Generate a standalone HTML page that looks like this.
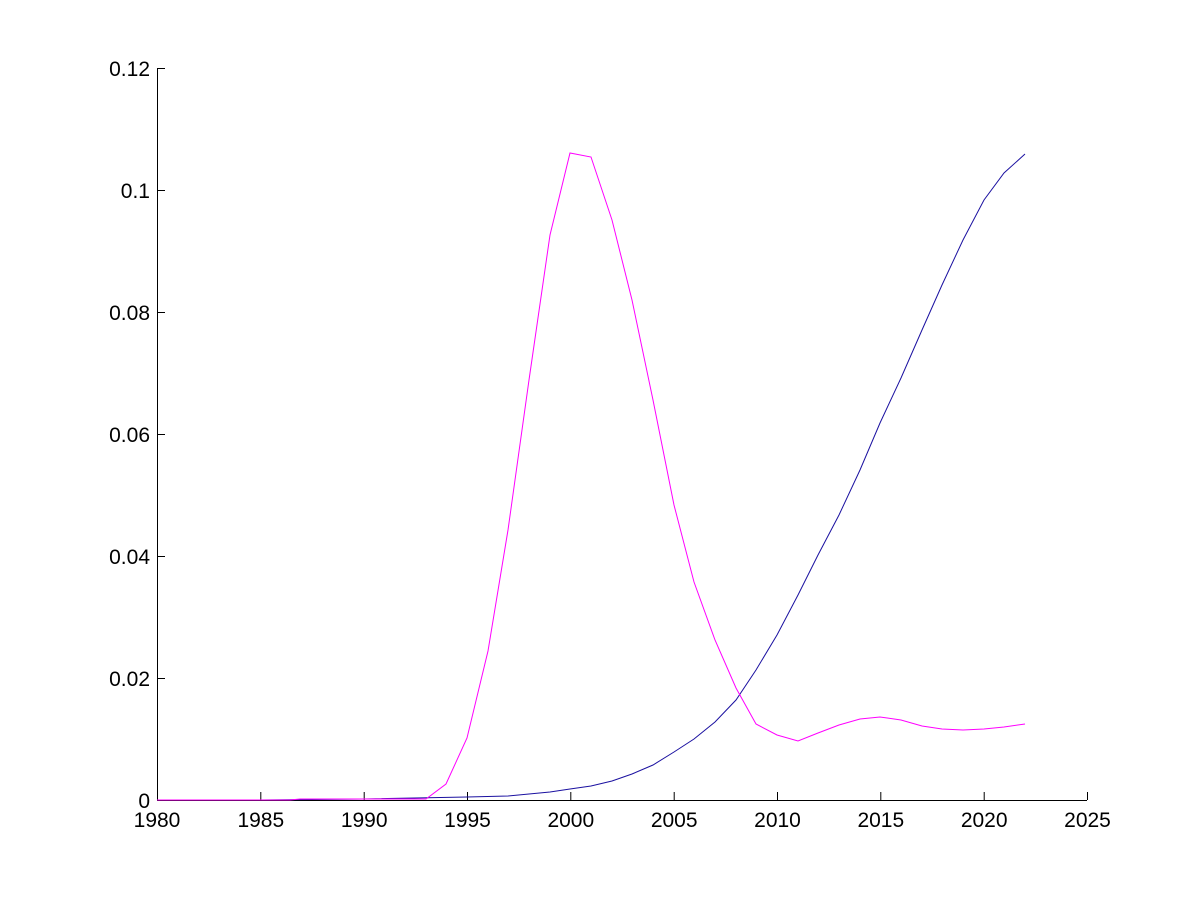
<!DOCTYPE html>
<html><head><style>body{margin:0;background:#fff}svg{display:block}text{font-family:"Liberation Sans",Arial,sans-serif;font-size:21px;fill:#000}</style></head>
<body>
<svg width="1200" height="900" xmlns="http://www.w3.org/2000/svg">
<rect width="1200" height="900" fill="#fff"/>
<g stroke="#000" stroke-width="1" fill="none">
<line x1="157.5" y1="68" x2="157.5" y2="800.5"/>
<line x1="157" y1="800.5" x2="1087" y2="800.5"/>
<path d="M157.5 800v-8M260.8 800v-8M364.2 800v-8M467.5 800v-8M570.8 800v-8M674.2 800v-8M777.5 800v-8M880.8 800v-8M984.2 800v-8M1087.5 800v-8"/>
<path d="M157 68.5h8M157 190.5h8M157 312.5h8M157 434.5h8M157 556.5h8M157 678.5h8"/>
</g>
<g text-anchor="middle">
<text x="157" y="827">1980</text><text x="260.8" y="827">1985</text><text x="364.2" y="827">1990</text><text x="467.5" y="827">1995</text><text x="570.8" y="827">2000</text><text x="674.2" y="827">2005</text><text x="777.5" y="827">2010</text><text x="880.8" y="827">2015</text><text x="984.2" y="827">2020</text><text x="1087.5" y="827">2025</text>
</g>
<g text-anchor="end">
<text x="150" y="808">0</text><text x="150" y="686">0.02</text><text x="150" y="564">0.04</text><text x="150" y="442">0.06</text><text x="150" y="320">0.08</text><text x="150" y="198">0.1</text><text x="150" y="76">0.12</text>
</g>
<polyline fill="none" stroke="#1a10a0" stroke-width="1" points="157,800 260,800 364,799 467,797 508,796 529,794 550,792 570,789 591,786 612,781 632,774 653,765 674,752 694,739 715,722 736,700 756,670 777,635 798,595 818,555 839,515 860,470 880,423 901,378 922,330 942,285 963,240 984,200 1004,173 1025,154"/>
<polyline fill="none" stroke="#ff00ff" stroke-width="1" points="157,800 290,800 300,799 426,799 446,784 467,738 488,651 508,530 529,380 550,235 570,153 591,157 612,220 632,300 653,400 674,505 694,582 715,640 736,688 756,724 777,735 798,741 818,733 839,725 860,719 880,717 901,720 922,726 942,729 963,730 984,729 1004,727 1025,724"/>
</svg>
</body></html>
